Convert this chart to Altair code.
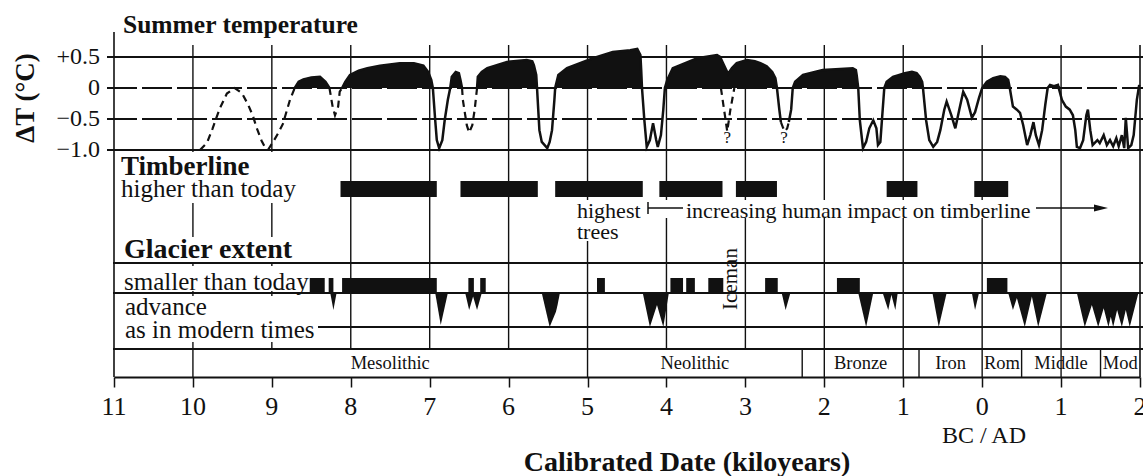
import altair as alt
import pandas as pd

FONT = "Liberation Serif"
INK = "#111111"
LEFT = 114   # page x of the plot area's left edge
PLOT_W = 1026
PLOT_H = 377

# ---------------- data (kiloyears; positive = BC, negative = AD) ----------------
x_tick_values = [11, 10, 9, 8, 7, 6, 5, 4, 3, 2, 1, 0, -1, -2]
grid_years = [10, 9, 8, 7, 6, 5, 4, 3, 2, 1, 0, -1]
temp_tick_values = [0.5, 0.0, -0.5, -1.0]
temp_tick_labels = ["+0.5", "0", "\u22120.5", "\u22121.0"]

# Summer temperature anomaly (deg C), as (kiloyears, dT) polylines
temp_dash_a = [(9.91, -1.0), (9.82, -0.88), (9.75, -0.65), (9.66, -0.33), (9.57, -0.09),
               (9.47, 0.0), (9.38, -0.08), (9.30, -0.27), (9.24, -0.45), (9.19, -0.65),
               (9.13, -0.85), (9.07, -1.0)]
temp_dash_b = [(9.05, -1.0), (8.98, -0.86), (8.92, -0.73), (8.86, -0.58), (8.77, -0.19), (8.71, 0.0)]
temp_solid_c = [(8.71, 0.0), (8.66, 0.1), (8.60, 0.14), (8.50, 0.17), (8.39, 0.18), (8.32, 0.1), (8.27, 0.0)]
temp_dash_d = [(8.27, 0.0), (8.23, -0.3), (8.20, -0.44), (8.16, -0.3), (8.14, -0.06), (8.11, 0.0)]
temp_solid_e = [(8.11, 0.0), (8.07, 0.1), (8.01, 0.21), (7.90, 0.28), (7.79, 0.32), (7.63, 0.36),
                (7.38, 0.40), (7.20, 0.40), (7.08, 0.36), (7.02, 0.26), (6.98, 0.13), (6.96, 0.0),
                (6.93, -0.52), (6.91, -0.84), (6.88, -0.97), (6.84, -0.84), (6.81, -0.52),
                (6.77, -0.19), (6.74, 0.0), (6.72, 0.18), (6.67, 0.26), (6.63, 0.24), (6.61, 0.13),
                (6.59, 0.0)]
temp_dash_f = [(6.59, 0.0), (6.58, -0.19), (6.53, -0.6), (6.50, -0.72), (6.46, -0.6), (6.43, -0.35), (6.40, 0.0)]
temp_solid_g = [(6.40, 0.0), (6.39, 0.18), (6.34, 0.26), (6.27, 0.32), (6.02, 0.42), (5.77, 0.45),
                (5.70, 0.43), (5.68, 0.37), (5.65, 0.21), (5.64, 0.0), (5.61, -0.68), (5.58, -0.87),
                (5.51, -0.97), (5.48, -0.87), (5.45, -0.68), (5.42, -0.19), (5.41, 0.0), (5.37, 0.21),
                (5.26, 0.32), (4.93, 0.48), (4.68, 0.58), (4.46, 0.61), (4.37, 0.63), (4.33, 0.53),
                (4.32, 0.29), (4.31, 0.0), (4.28, -0.52), (4.25, -0.95), (4.21, -0.84), (4.17, -0.57),
                (4.13, -0.84), (4.11, -0.95), (4.07, -0.76), (4.04, -0.35), (4.02, 0.0), (3.99, 0.13),
                (3.92, 0.32), (3.61, 0.48), (3.36, 0.53), (3.32, 0.50), (3.29, 0.42), (3.22, 0.23),
                (3.17, 0.32), (3.11, 0.40), (2.98, 0.45), (2.88, 0.43), (2.81, 0.40), (2.73, 0.35),
                (2.66, 0.26), (2.62, 0.16), (2.60, 0.0), (2.57, -0.35), (2.55, -0.55)]
temp_dash_h = [(2.55, -0.55), (2.52, -0.65), (2.50, -0.70), (2.47, -0.65), (2.45, -0.55)]
temp_solid_i = [(2.45, -0.55), (2.42, -0.35), (2.40, 0.0), (2.37, 0.1), (2.27, 0.21), (2.02, 0.29),
                (1.64, 0.32), (1.60, 0.29), (1.59, 0.21), (1.57, 0.0), (1.55, -0.52), (1.51, -0.97),
                (1.47, -0.87), (1.43, -0.65), (1.38, -0.52), (1.34, -0.65), (1.32, -0.92), (1.29, -0.87),
                (1.27, -0.52), (1.24, 0.0), (1.21, 0.1), (1.13, 0.18), (0.98, 0.24), (0.89, 0.26),
                (0.83, 0.24), (0.79, 0.18), (0.76, 0.1), (0.75, 0.0), (0.71, -0.52), (0.67, -0.84),
                (0.62, -0.95), (0.57, -0.87), (0.53, -0.68), (0.48, -0.35), (0.45, -0.22), (0.39, -0.44),
                (0.34, -0.65), (0.29, -0.35), (0.24, -0.06), (0.19, -0.19), (0.13, -0.48), (0.09, -0.39),
                (0.04, -0.16), (0.0, 0.0), (-0.06, 0.1), (-0.14, 0.16), (-0.23, 0.19), (-0.29, 0.18),
                (-0.33, 0.13), (-0.35, 0.0), (-0.39, -0.3), (-0.44, -0.35), (-0.48, -0.4), (-0.52, -0.6),
                (-0.57, -0.92), (-0.61, -0.76), (-0.65, -0.55), (-0.68, -0.76), (-0.72, -0.92),
                (-0.76, -0.68), (-0.80, -0.27), (-0.83, 0.0), (-0.86, 0.05), (-0.91, 0.03), (-0.96, 0.05),
                (-1.01, -0.19), (-1.06, -0.3), (-1.11, -0.35), (-1.15, -0.44), (-1.18, -0.68),
                (-1.20, -0.95), (-1.24, -0.97), (-1.28, -0.84), (-1.32, -0.44), (-1.34, -0.35),
                (-1.37, -0.68), (-1.40, -0.92), (-1.46, -0.84), (-1.49, -0.89), (-1.54, -0.76),
                (-1.58, -0.92), (-1.62, -0.84), (-1.66, -0.94), (-1.70, -0.81), (-1.73, -0.94),
                (-1.77, -0.76), (-1.80, -0.97), (-1.82, -0.48), (-1.85, -0.97), (-1.89, -0.92),
                (-1.92, -0.76), (-1.96, -0.19), (-1.99, 0.05)]
temp_dash_j = [(3.31, 0.0), (3.27, -0.35), (3.23, -0.70), (3.19, -0.35), (3.14, 0.0)]
temp_segments = [("dashed", temp_dash_a), ("dashed", temp_dash_b), ("solid", temp_solid_c),
                 ("dashed", temp_dash_d), ("solid", temp_solid_e), ("dashed", temp_dash_f),
                 ("solid", temp_solid_g), ("dashed", temp_dash_h), ("solid", temp_solid_i),
                 ("dashed", temp_dash_j)]
uncertain_years = [3.23, 2.51]

# Timberline higher than today
timber_start = [8.13, 6.61, 5.41, 4.09, 3.12, 1.21, 0.10]
timber_end = [6.91, 5.63, 4.30, 3.29, 2.60, 0.82, -0.33]

# Glacier extent smaller than today
glacier_small_start = [8.52, 8.28, 8.11, 6.51, 6.36, 4.88, 3.95, 3.75, 3.47, 2.75, 1.84, -0.06]
glacier_small_end = [8.33, 8.22, 6.91, 6.44, 6.29, 4.78, 3.79, 3.64, 3.28, 2.59, 1.55, -0.32]

# Glacier advances: (kiloyears, advance relative to modern extent = 1)
glacier_advances = [
    [(8.26, 0), (8.22, 0.5), (8.18, 0)],
    [(6.93, 0), (6.86, 0.94), (6.77, 0)],
    [(6.55, 0), (6.50, 0.5), (6.45, 0.1), (6.40, 0.5), (6.34, 0)],
    [(5.58, 0), (5.48, 1.0), (5.40, 0.55), (5.38, 0.35), (5.35, 0)],
    [(4.30, 0), (4.21, 1.0), (4.12, 0.35), (4.04, 1.0), (3.97, 0)],
    [(2.54, 0), (2.49, 0.5), (2.43, 0)],
    [(1.57, 0), (1.47, 1.0), (1.38, 0)],
    [(1.26, 0), (1.19, 0.5), (1.15, 0.05), (1.10, 0.5), (1.07, 0)],
    [(0.63, 0), (0.55, 1.0), (0.45, 0)],
    [(0.13, 0), (0.09, 0.5), (0.04, 0)],
    [(-0.33, 0), (-0.39, 0.5), (-0.44, 0.15), (-0.54, 1.0), (-0.63, 0.1), (-0.71, 1.0), (-0.82, 0)],
    [(-1.20, 0), (-1.30, 1.0), (-1.39, 0.35), (-1.47, 1.0), (-1.54, 0.45), (-1.60, 1.0),
     (-1.63, 0.7), (-1.66, 1.0), (-1.71, 0.5), (-1.77, 1.0), (-1.82, 0.5), (-1.87, 1.0), (-1.98, 0)],
]

# Cultural periods
period_names = ["Mesolithic", "Neolithic", "Bronze", "Iron", "Rom", "Middle", "Mod"]
period_start = [10, 5, 2.28, 0.8, 0, -0.5, -1.5]
period_end = [5, 2.28, 0.8, 0, -0.5, -1.5, -2]
period_extra_lines = [2, 1, -1]

# ---------------- tables ----------------
rows = []
for s, (style, pts) in enumerate(temp_segments):
    for i, (yr, dt) in enumerate(pts):
        rows.append({"seg": s, "style": style, "idx": i, "year": yr, "dT": dt,
                     "pos": max(dt, 0.0), "base": 0.0})
temp_df = pd.DataFrame(rows)

adv_rows = []
for g, pts in enumerate(glacier_advances):
    for i, (yr, d) in enumerate(pts):
        adv_rows.append({"grp": g, "idx": i, "year": yr, "depth": d, "base": 0.0})
adv_df = pd.DataFrame(adv_rows)

timber_df = pd.DataFrame({"start": timber_start, "end": timber_end})
small_df = pd.DataFrame({"start": glacier_small_start, "end": glacier_small_end})
period_df = pd.DataFrame({"name": period_names, "start": period_start, "end": period_end})
period_df["mid"] = (period_df["start"] + period_df["end"]) / 2
divider_df = pd.DataFrame({"year": sorted(set(period_start + period_extra_lines))})
grid_df = pd.DataFrame({"year": grid_years})
xtick_df = pd.DataFrame({"year": x_tick_values, "label": [str(abs(v)) for v in x_tick_values]})
hl_df = pd.DataFrame({"dT": temp_tick_values, "label": temp_tick_labels})
q_df = pd.DataFrame({"year": uncertain_years})
ONE = alt.Data(values=[{"k": 1}])

# ---------------- encodings ----------------
X_SCALE = alt.Scale(domain=[-2, 11], reverse=True, nice=False, zero=False)
X_AXIS = alt.Axis(values=x_tick_values, labels=False, tickSize=10, tickColor=INK, tickWidth=1.5,
                  domainColor=INK, domainWidth=1.8, grid=False, orient="bottom")


def xf(field):
    return alt.X(field, type="quantitative", scale=X_SCALE, axis=X_AXIS, title=None)


T_SCALE = alt.Scale(domain=[-4.6613, 1.4194], nice=False, zero=False)


def yt(field):
    return alt.Y(field, type="quantitative", scale=T_SCALE, axis=None, title=None, stack=None)


G_SCALE = alt.Scale(domain=[-8.6176, 2.4706], reverse=True, nice=False, zero=False)


def px(v):
    return alt.value(v - LEFT)


def label(text, x, y, size, weight="normal", align="left", angle=0, baseline="alphabetic"):
    kw = dict(text=text, font=FONT, fontSize=size, fontWeight=weight, align=align,
              baseline=baseline, color=INK)
    if angle:
        kw["angle"] = angle
    return alt.Chart(ONE).mark_text(**kw).encode(x=px(x), y=alt.value(y))


def hrule(x1, x2, y, width=1.8):
    return alt.Chart(ONE).mark_rule(color=INK, strokeWidth=width).encode(
        x=px(x1), x2=px(x2), y=alt.value(y))


def vrule(x, y1, y2, width=1.5):
    return alt.Chart(ONE).mark_rule(color=INK, strokeWidth=width).encode(
        x=px(x), y=alt.value(y1), y2=alt.value(y2))


def mask(x1, x2, y1, y2):
    return alt.Chart(ONE).mark_rect(color="white").encode(
        x=px(x1), x2=px(x2), y=alt.value(y1), y2=alt.value(y2))


# ---------------- layers ----------------
grid = alt.Chart(grid_df).mark_rule(color=INK, strokeWidth=1.4).encode(
    x=xf("year"), y=alt.value(45), y2=alt.value(349))
left_border = alt.Chart(pd.DataFrame({"year": [11]})).mark_rule(color=INK, strokeWidth=1.6).encode(
    x=xf("year"), y=alt.value(32), y2=alt.value(PLOT_H))
right_border = alt.Chart(pd.DataFrame({"year": [-2]})).mark_rule(color=INK, strokeWidth=1.6).encode(
    x=xf("year"), y=alt.value(45), y2=alt.value(PLOT_H))
dividers = alt.Chart(divider_df).mark_rule(color=INK, strokeWidth=1.4).encode(
    x=xf("year"), y=alt.value(349), y2=alt.value(PLOT_H))
xtick_labels = alt.Chart(xtick_df).mark_text(
    font=FONT, fontSize=26, color=INK, baseline="alphabetic").encode(
    x=xf("year"), y=alt.value(415), text="label:N")

masks = [
    mask(116, 304, 152, 203),
    mask(116, 320, 237, 262),
    mask(116, 306, 266, 291),
    mask(116, 320, 296, 342),
    mask(574, 645, 200, 241),
    mask(660, 1037, 200, 218),
]

hlines = [
    hrule(113, 1143, 263),
    hrule(113, 1143, 293),
    hrule(318, 1143, 327),
    hrule(113, 1143, 349),
]

temp_rules_solid = alt.Chart(hl_df).transform_filter("datum.dT == 0.5 || datum.dT == -1").mark_rule(
    color=INK, strokeWidth=1.8).encode(y=yt("dT"), x=alt.value(-7), x2=alt.value(PLOT_W + 3))
temp_rules_dash = alt.Chart(hl_df).transform_filter("datum.dT == 0 || datum.dT == -0.5").mark_rule(
    color=INK, strokeWidth=1.8, strokeDash=[30, 5]).encode(y=yt("dT"), x=alt.value(-7), x2=alt.value(PLOT_W + 3))
temp_labels = alt.Chart(hl_df).mark_text(
    font=FONT, fontSize=24, color=INK, align="right", baseline="middle").encode(
    y=yt("dT"), x=alt.value(100 - LEFT), text="label:N")
temp_area = alt.Chart(temp_df).transform_filter("datum.style == 'solid'").mark_area(
    color=INK, fill=INK, opacity=1, fillOpacity=1).encode(
    x=xf("year"), y=yt("pos"), y2="base", detail="seg:N")
temp_line_solid = alt.Chart(temp_df).transform_filter("datum.style == 'solid'").mark_line(
    color=INK, strokeWidth=2.5).encode(x=xf("year"), y=yt("dT"), detail="seg:N", order="idx:Q")
temp_line_dash = alt.Chart(temp_df).transform_filter("datum.style == 'dashed'").mark_line(
    color=INK, strokeWidth=2.2, strokeDash=[7, 5]).encode(x=xf("year"), y=yt("dT"), detail="seg:N", order="idx:Q")
temp_layer = alt.layer(temp_rules_solid, temp_rules_dash, temp_labels, temp_area,
                       temp_line_solid, temp_line_dash)

glacier_adv = alt.Chart(adv_df).mark_area(color=INK, fill=INK, opacity=1, fillOpacity=1).encode(
    x=xf("year"), y=alt.Y("depth:Q", scale=G_SCALE, axis=None, title=None, stack=None),
    y2="base", detail="grp:N")

timber_bars = alt.Chart(timber_df).mark_rect(color=INK).encode(
    x=xf("start"), x2="end", y=alt.value(181), y2=alt.value(197))
small_bars = alt.Chart(small_df).mark_rect(color=INK).encode(
    x=xf("start"), x2="end", y=alt.value(278), y2=alt.value(293))

period_text = alt.Chart(period_df).mark_text(
    font=FONT, fontSize=18.5, color=INK, baseline="alphabetic").encode(
    x=xf("mid"), y=alt.value(369), text="name:N")
q_text = alt.Chart(q_df).mark_text(text="?", font=FONT, fontSize=17, color=INK, baseline="alphabetic").encode(
    x=xf("year"), y=alt.value(143))

annot = [
    vrule(648, 202, 214, 1.5),
    hrule(648, 683, 208, 1.5),
    hrule(1036, 1096, 208, 1.5),
    alt.Chart(ONE).mark_point(shape="M -1 -0.5 L 1 0 L -1 0.5 Z", filled=True, size=196,
                              color=INK, opacity=1).encode(x=px(1101), y=alt.value(208)),
]

texts = [
    label("Summer temperature", 123, 33, 25.5, "bold"),
    label("\u0394T (\u00b0C)", 26, 98, 27, "bold", align="center", angle=270, baseline="middle"),
    label("Timberline", 121, 175, 27, "bold"),
    label("higher than today", 121, 197, 25),
    label("highest", 577, 218, 22),
    label("trees", 577, 239, 22),
    label("increasing human impact on timberline", 686, 218, 22),
    label("Glacier extent", 124, 258, 28, "bold"),
    label("smaller than today", 124, 290, 25),
    label("advance", 125, 315, 25),
    label("as in modern times", 125, 338, 25),
    label("Iceman", 737, 279, 21, align="center", angle=270),
    label("BC  /  AD", 984, 443, 24, align="center"),
    label("Calibrated Date (kiloyears)", 687, 471, 28, "bold", align="center"),
]

chart = alt.layer(
    grid, left_border, right_border, dividers,
    *masks, *hlines,
    temp_layer,
    glacier_adv, timber_bars, small_bars,
    period_text, q_text, xtick_labels,
    *annot, *texts,
).resolve_scale(y="independent").properties(
    width=PLOT_W, height=PLOT_H,
    autosize=alt.AutoSizeParams(type="none"),
    padding={"left": LEFT, "top": 0, "right": 1143 - LEFT - PLOT_W, "bottom": 476 - PLOT_H},
    background="white",
).configure_view(stroke=None).configure_text(font=FONT)

chart.save("out.html", embed_options={"renderer": "svg", "actions": False})
